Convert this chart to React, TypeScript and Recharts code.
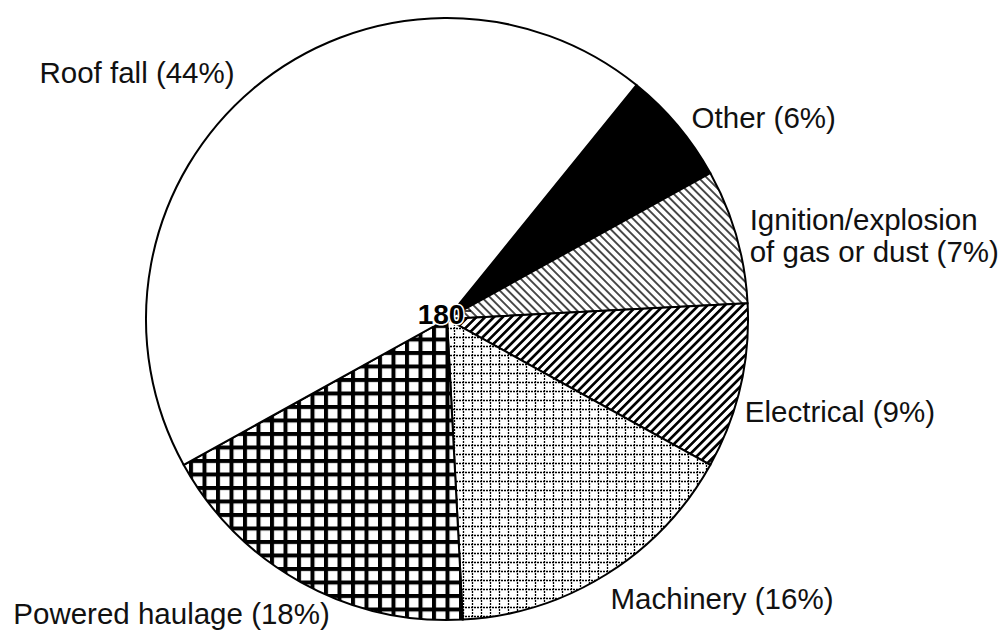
import { PieChart, Pie, Cell, Label } from "recharts";

// Fatalities by accident class (total 180), clockwise from "Other"
const categories = [
    "Other",
    "Ignition/explosion\nof gas or dust",
    "Electrical",
    "Machinery",
    "Powered haulage",
    "Roof fall",
];

const fatalities = [11, 13, 16, 29, 32, 79];

const patternIds = ["solid", "hatchBack", "hatchFwd", "dotGrid", "boldGrid", "plain"];

const total = fatalities.reduce((a, b) => a + b, 0);

const data = categories.map((name, i) => ({
    name,
    value: fatalities[i],
}));

// small hand nudges so labels sit like the original figure
const labelNudge: Record<string, [number, number]> = {
    Other: [1, 2],
    "Ignition/explosion\nof gas or dust": [-3, 4],
    Electrical: [-12, 20],
    Machinery: [-5, 9],
    "Powered haulage": [37, 16],
    "Roof fall": [-8, -3],
};

const RAD = Math.PI / 180;
const FONT = "'Liberation Sans', Arial, Helvetica, sans-serif";

function SliceLabel(props: any) {
    const { cx, cy, midAngle, name, percent } = props;
    const r = 318;
    const cos = Math.cos(midAngle * RAD);
    const [dx, dy] = labelNudge[name] || [0, 0];
    const x = cx + r * cos + dx;
    const y = cy - r * Math.sin(midAngle * RAD) + dy;
    const lines = `${name} (${Math.round(percent * 100)}%)`.split("\n");
    const lh = 32;
    const y0 = y - ((lines.length - 1) * lh) / 2;

    return (
        <text
            x={x}
            y={y0}
            textAnchor={cos >= 0 ? "start" : "end"}
            dominantBaseline="central"
            fontFamily={FONT}
            fontSize={29.5}
            fill="#111"
        >
            {lines.map((ln, i) => (
                <tspan key={i} x={x} dy={i === 0 ? 0 : lh}>
                    {ln}
                </tspan>
            ))}
        </text>
    );
}

export default function App() {
    return (
        <div style={{ width: 1000, height: 639, background: "#fff" }}>
            <style>{`body{margin:0}`}</style>
            <PieChart width={1000} height={639}>
                <defs>
                    <pattern id="solid" width="4" height="4" patternUnits="userSpaceOnUse">
                        <rect width="4" height="4" fill="#000" />
                    </pattern>
                    <pattern
                        id="hatchBack"
                        width="5.8"
                        height="5.8"
                        patternUnits="userSpaceOnUse"
                        patternTransform="rotate(-45)"
                    >
                        <rect width="5.8" height="5.8" fill="#fff" />
                        <line x1="2.9" y1="0" x2="2.9" y2="5.8" stroke="#000" strokeWidth="1.4" />
                    </pattern>
                    <pattern
                        id="hatchFwd"
                        width="6.2"
                        height="6.2"
                        patternUnits="userSpaceOnUse"
                        patternTransform="rotate(45)"
                    >
                        <rect width="6.2" height="6.2" fill="#fff" />
                        <line x1="3.1" y1="0" x2="3.1" y2="6.2" stroke="#000" strokeWidth="2.7" />
                    </pattern>
                    <pattern id="dotGrid" width="9" height="9" patternUnits="userSpaceOnUse">
                        <rect width="9" height="9" fill="#fff" />
                        <line x1="0" y1="4.5" x2="9" y2="4.5" stroke="#000" strokeWidth="1.3" strokeDasharray="2 1" />
                        <line x1="4.5" y1="0" x2="4.5" y2="9" stroke="#000" strokeWidth="1.3" strokeDasharray="2 1" />
                    </pattern>
                    <pattern id="boldGrid" width="13.5" height="13.5" patternUnits="userSpaceOnUse">
                        <rect width="13.5" height="13.5" fill="#fff" />
                        <rect x="0" y="0" width="13.5" height="4" fill="#000" />
                        <rect x="0" y="0" width="4" height="13.5" fill="#000" />
                    </pattern>
                    <pattern id="plain" width="4" height="4" patternUnits="userSpaceOnUse">
                        <rect width="4" height="4" fill="#fff" />
                    </pattern>
                </defs>
                <Pie
                    data={data}
                    dataKey="value"
                    nameKey="name"
                    cx={442}
                    cy={314}
                    outerRadius={301}
                    startAngle={51}
                    endAngle={-309}
                    stroke="#000"
                    strokeWidth={2}
                    label={SliceLabel}
                    labelLine={false}
                    isAnimationActive={false}
                >
                    {data.map((d, i) => (
                        <Cell key={d.name} fill={`url(#${patternIds[i]})`} />
                    ))}
                    <Label
                        position="center"
                        content={(p: any) => {
                            const cx = p.viewBox?.cx ?? 442;
                            const cy = p.viewBox?.cy ?? 314;
                            return (
                                <g>
                                    <line x1={cx + 21} y1={cy - 3} x2={cx + 29} y2={cy - 3} stroke="#000" strokeWidth={1.5} />
                                    <text
                                        x={cx - 1}
                                        y={cy}
                                        textAnchor="middle"
                                        dominantBaseline="central"
                                        fontFamily={FONT}
                                        fontWeight="bold"
                                        fontSize={28}
                                        fill="#000"
                                        stroke="#fff"
                                        strokeWidth={3}
                                        paintOrder="stroke"
                                    >
                                        {total}
                                    </text>
                                </g>
                            );
                        }}
                    />
                </Pie>
            </PieChart>
        </div>
    );
}
